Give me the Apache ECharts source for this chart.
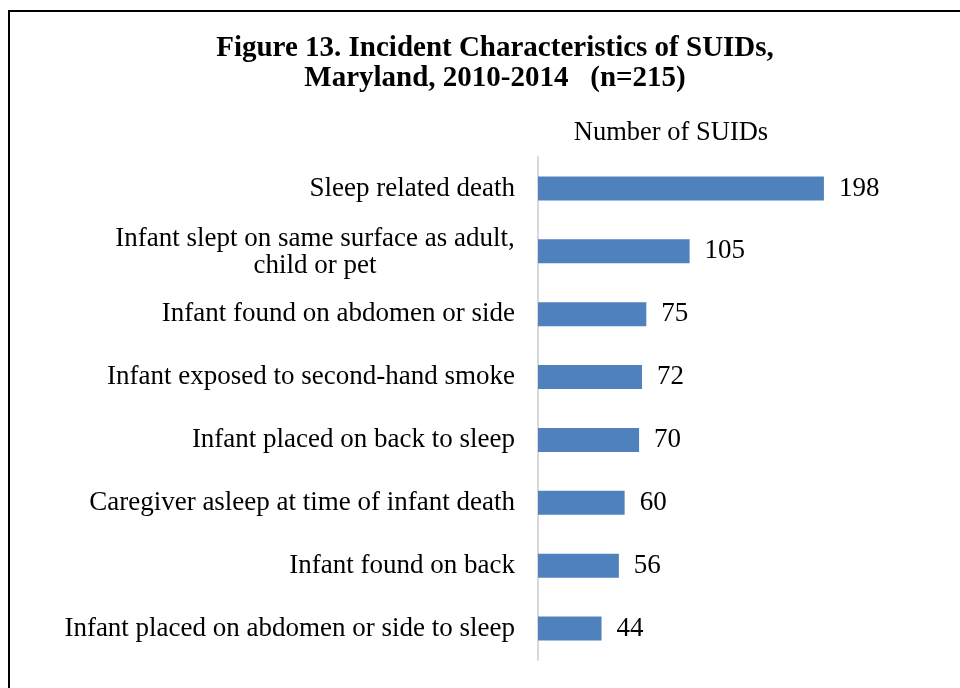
<!DOCTYPE html>
<html><head><meta charset="utf-8">
<script src="https://cdn.jsdelivr.net/npm/echarts@6/dist/echarts.min.js"></script>
<style>html,body{margin:0;padding:0;background:#fff}#c{width:960px;height:688px}</style>
</head><body><div id="c"></div>
<script>
var categories = [
  "Sleep related death",
  "Infant slept on same surface as adult,\nchild or pet",
  "Infant found on abdomen or side",
  "Infant exposed to second-hand smoke",
  "Infant placed on back to sleep",
  "Caregiver asleep at time of infant death",
  "Infant found on back",
  "Infant placed on abdomen or side to sleep"
];
var values = [198, 105, 75, 72, 70, 60, 56, 44];
var titleText = "Figure 13. Incident Characteristics of SUIDs,\nMaryland, 2010-2014   (n=215)";
var seriesName = "Number of SUIDs";

var serif = "'Liberation Serif','Times New Roman',serif";
var chart = echarts.init(document.getElementById('c'));
chart.setOption({
  animation: false,
  backgroundColor: '#fff',
  title: {
    text: titleText, left: 490, textAlign: 'center', top: 29,
    textStyle: { fontFamily: serif, fontWeight: 'bold', fontSize: 29, lineHeight: 30, color: '#000' }
  },
  graphic: [
    { type: 'rect', shape: { x: 9, y: 11, width: 980, height: 700 }, style: { fill: 'none', stroke: '#000', lineWidth: 2 } },
    { type: 'text', x: 671, y: 133, style: { text: seriesName, textAlign: 'center', textVerticalAlign: 'middle', font: '26.5px ' + serif, fill: '#000' } }
  ],
  grid: { left: 538, top: 157, width: 361, height: 503 },
  xAxis: { type: 'value', min: 0, max: 250, show: false },
  yAxis: {
    type: 'category', data: categories, inverse: true,
    axisLine: { show: true, lineStyle: { color: '#d9d9d9', width: 2 } },
    axisTick: { show: false },
    axisLabel: {
      margin: 23, color: '#000', fontFamily: serif, fontSize: 27,
      formatter: function (v) {
        if (v.indexOf('\n') >= 0) {
          return v.split('\n').map(function (s) { return '{m|' + s + '}'; }).join('\n');
        }
        return v;
      },
      rich: { m: { width: 400, align: 'center', fontFamily: serif, fontSize: 27, lineHeight: 27, padding: [3, 0, 0, 0], color: '#000' } }
    }
  },
  series: [{
    type: 'bar', name: seriesName, data: values, barWidth: 24,
    itemStyle: { color: '#4f81bd' },
    label: { show: true, position: 'right', distance: 15, color: '#000', fontFamily: serif, fontSize: 27 }
  }]
});
</script></body></html>
